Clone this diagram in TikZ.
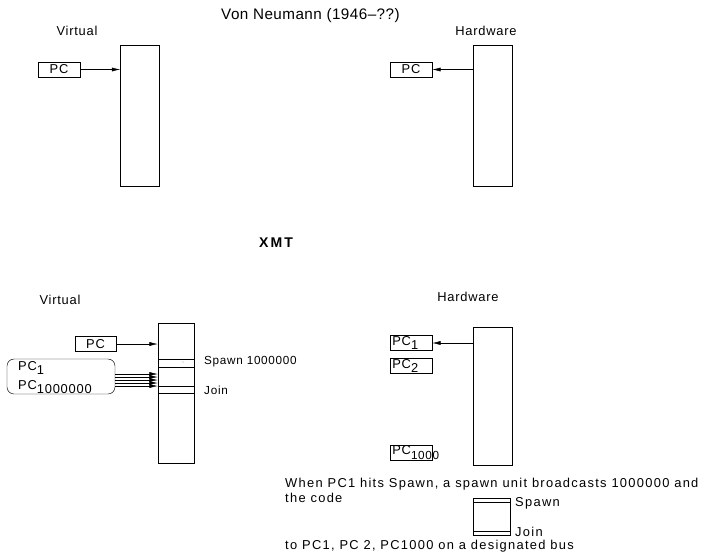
\documentclass[tikz,border=0pt]{standalone}
\usepackage{fontspec}
\setmainfont{Liberation Sans}[LetterSpace=6]
\usepackage{tikz}
\usetikzlibrary{positioning, arrows.meta, calc}

\newcommand{\pcsub}[1]{\raisebox{-0.7ex}{#1}}

\begin{document}
\begin{tikzpicture}[x=0.03cm, y=-0.03cm,
    mem/.style={draw, inner sep=0, minimum width=1.17cm},
    pcbox/.style={draw, inner sep=0, minimum width=1.26cm, minimum height=0.46cm, font=\fontsize{11}{12}\selectfont},
    subbox/.style={pcbox, text width=1.12cm, align=left},
    lbl/.style={font=\fontsize{11}{12}\selectfont, inner sep=0},
    txt/.style={font=\fontsize{11}{12}\selectfont\addfontfeature{LetterSpace=10}, inner sep=0, anchor=west},
    ptr/.style={-{Latex[length=2.5mm, width=1.2mm]}}]
    \useasboundingbox (0,0) rectangle (706,552);

    % Von Neumann
    \node[font=\fontsize{13}{14}\selectfont\addfontfeature{LetterSpace=3}, inner sep=0, anchor=west] (title) at (221,16) {Von Neumann (1946--??)};
    \node[lbl] (vnvirt) at (77,31) {Virtual};
    \node[lbl] (vnhard) at (486,31) {Hardware};

    % virtual side
    \node[mem, minimum height=4.23cm] (vmem) at (140,116) {};
    \node[pcbox] (vpc) at (59,69.5) {PC};
    \draw[ptr] (vpc.east) -- (vmem.west |- vpc.east);

    % hardware side
    \node[mem, minimum height=4.23cm] (hmem) at (492.5,116) {};
    \node[pcbox] (hpc) at (411,69.5) {PC};
    \draw[ptr] (hmem.west |- hpc.west) -- (hpc.east);

    % XMT
    \node[font=\fontsize{12}{13}\selectfont\bfseries\addfontfeature{LetterSpace=15}, inner sep=0] (xmt) at (276,243) {XMT};
    \node[lbl] (xvirt) at (60,300) {Virtual};
    \node[lbl] (xhard) at (468,297) {Hardware};

    % virtual side
    \node[mem, minimum width=1.08cm, minimum height=4.2cm] (xmem) at (176,393) {};
    \node[draw, inner sep=0, minimum width=1.08cm, minimum height=0.24cm] (spawn) at (176,363) {};
    \node[draw, inner sep=0, minimum width=1.08cm, minimum height=0.21cm] (join) at (176,389.5) {};
    \fill (183,362) circle (0.4pt);
    \node[lbl, anchor=west, font=\fontsize{10}{11}\selectfont] (spawnlbl) at (204,362) {Spawn 1000000};
    \node[lbl, anchor=west, font=\fontsize{10}{11}\selectfont] (joinlbl) at (204,390) {Join};
    \node[pcbox, minimum width=1.23cm] (xpc) at (95.5,344) {PC};
    \draw[ptr] (xpc.east) -- (xmem.west |- xpc.east);
    \node[draw, rounded corners=6pt, inner sep=0, minimum width=3.24cm, minimum height=1.05cm] (pcs) at (61,376.5) {};
    \node[lbl, anchor=west] (pcone) at (18,368) {PC\pcsub{1}};
    \node[lbl, anchor=west] (pcmany) at (18,387) {PC\pcsub{1000000}};
    \foreach \y in {374,377,380,383,386}
        \draw[ptr] (pcs.east |- 0,\y) -- (xmem.west |- 0,\y);

    % hardware side
    \node[mem, minimum height=4.14cm] (xhmem) at (492.5,396) {};
    \node[subbox] (hpcone) at (411,343) {PC\pcsub{1}};
    \node[subbox] (hpctwo) at (411,366) {PC\pcsub{2}};
    \node[subbox] (hpcthou) at (411,452.5) {PC\pcsub{\fontsize{10}{11}\selectfont 1000}};
    \draw[ptr] (xhmem.west |- hpcone.west) -- (hpcone.east);

    % explanation
    \node[txt] (line1) at (285,484) {When PC1 hits Spawn, a spawn unit broadcasts 1000000 and};
    \node[txt] (line2) at (285,498) {the code};
    \node[draw, inner sep=0, minimum width=1.11cm, minimum height=1.11cm] (code) at (491.5,516.5) {};
    \draw (code.north west) ++(0,4) coordinate (sa) -- (sa -| code.east);
    \draw (code.south west) ++(0,-4) coordinate (ja) -- (ja -| code.east);
    \node[txt] (codespawn) at (515,503) {Spawn};
    \node[txt] (codejoin) at (515,532) {Join};
    \node[txt] (line3) at (285,546) {to PC1, PC 2, PC1000 on a designated bus};
\end{tikzpicture}
\end{document}
